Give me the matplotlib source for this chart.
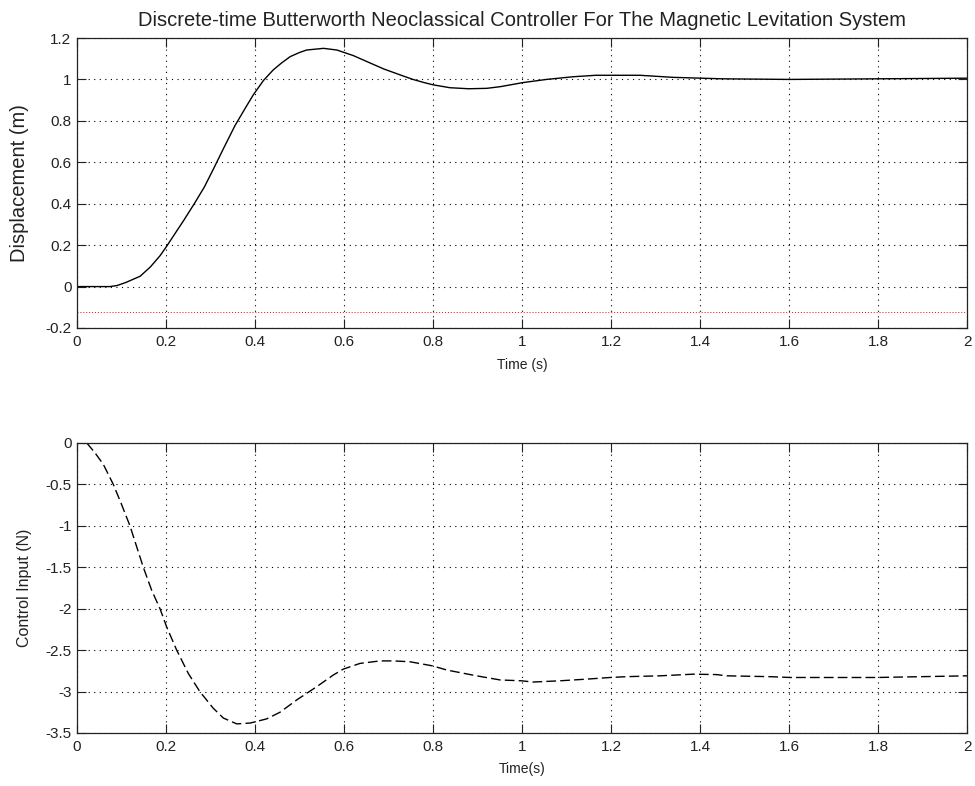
import matplotlib
matplotlib.use("Agg")
import matplotlib.pyplot as plt
from matplotlib.ticker import FuncFormatter

plt.rcParams["font.family"] = ["Liberation Sans", "DejaVu Sans"]
plt.rcParams["axes.unicode_minus"] = False

# displacement response (m) vs time (s)
t_disp = [0, 0.074, 0.09, 0.11, 0.142, 0.165, 0.187, 0.2016, 0.22, 0.24, 0.265,
          0.286, 0.306, 0.33, 0.355, 0.38, 0.396, 0.419, 0.441, 0.46, 0.479, 0.50,
          0.516, 0.554, 0.584, 0.621, 0.658, 0.69, 0.726, 0.755, 0.778, 0.80, 0.838,
          0.88, 0.921, 0.951, 1.003, 1.055, 1.115, 1.166, 1.265, 1.31, 1.34, 1.45,
          1.6, 1.8, 2.0]
disp = [0, 0, 0.005, 0.02, 0.05, 0.095, 0.15, 0.195, 0.255, 0.32, 0.405,
        0.48, 0.565, 0.67, 0.777, 0.868, 0.925, 0.995, 1.046, 1.08, 1.11, 1.13,
        1.142, 1.15, 1.142, 1.115, 1.08, 1.05, 1.022, 1.0, 0.986, 0.974, 0.96,
        0.955, 0.957, 0.965, 0.985, 1.0, 1.013, 1.02, 1.02, 1.014, 1.01, 1.003,
        1.0, 1.003, 1.006]
ref_level = -0.124

# control input (N) vs time (s)
t_ctrl = [0.022, 0.04, 0.059, 0.0816, 0.10, 0.119, 0.149, 0.168, 0.1865, 0.2015,
          0.224, 0.25, 0.276, 0.306, 0.329, 0.359, 0.389, 0.426, 0.456, 0.494,
          0.539, 0.576, 0.598, 0.636, 0.681, 0.711, 0.748, 0.799, 0.831, 0.898,
          0.951, 0.999, 1.025, 1.085, 1.145, 1.198, 1.235, 1.31, 1.385, 1.437,
          1.46, 1.557, 1.602, 1.797, 2.0]
ctrl = [0, -0.116, -0.256, -0.5, -0.74, -1.0, -1.5, -1.78, -2.0, -2.22,
        -2.5, -2.78, -3.0, -3.2, -3.32, -3.39, -3.38, -3.33, -3.25, -3.10,
        -2.94, -2.8, -2.73, -2.66, -2.63, -2.63, -2.64, -2.69, -2.74, -2.81,
        -2.86, -2.87, -2.885, -2.87, -2.85, -2.83, -2.82, -2.81, -2.79, -2.795,
        -2.81, -2.82, -2.83, -2.83, -2.81]

x_ticks = [0, 0.2, 0.4, 0.6, 0.8, 1, 1.2, 1.4, 1.6, 1.8, 2]
disp_ticks = [-0.2, 0, 0.2, 0.4, 0.6, 0.8, 1, 1.2]
ctrl_ticks = [-3.5, -3, -2.5, -2, -1.5, -1, -0.5, 0]

W, H = 975, 786
fig = plt.figure(figsize=(W / 100, H / 100), dpi=100)
fig.patch.set_facecolor("white")

ax1 = fig.add_axes([77 / W, 1 - 328 / H, 890 / W, 290 / H])
ax2 = fig.add_axes([77 / W, 1 - 733 / H, 890 / W, 290 / H])

fmt = FuncFormatter(lambda v, p: "%g" % v)


def style(ax, yticks):
    ax.set_xlim(0, 2)
    ax.set_ylim(yticks[0], yticks[-1])
    ax.set_xticks(x_ticks)
    ax.set_yticks(yticks)
    ax.xaxis.set_major_formatter(fmt)
    ax.yaxis.set_major_formatter(fmt)
    ax.tick_params(direction="in", length=6.5, width=0.8, top=True, right=True,
                   labelsize=11, colors="#222222")
    ax.tick_params(axis="x", pad=5)
    ax.tick_params(axis="y", pad=4)
    ax.grid(True, color="black", linestyle=(0, (1, 4)), linewidth=0.8)
    ax.set_axisbelow(True)
    for s in ax.spines.values():
        s.set_linewidth(0.9)
        s.set_color("#222222")


style(ax1, disp_ticks)
style(ax2, ctrl_ticks)

ax1.plot(t_disp, disp, color="black", linewidth=1.0)
ax1.axhline(ref_level, color="red", linestyle=(0, (1, 2)), linewidth=0.7)
ax1.set_title("Discrete-time Butterworth Neoclassical Controller For The Magnetic Levitation System",
              fontsize=14.5, pad=9, color="#222222")
ax1.set_ylabel("Displacement (m)", fontsize=14.5, color="#222222")
ax1.yaxis.set_label_coords(-0.054, 0.5)
ax1.set_xlabel("Time (s)", fontsize=10, color="#222222")
ax1.xaxis.set_label_coords(0.5, -0.105)

ax2.plot(t_ctrl, ctrl, color="black", linewidth=1.0, linestyle=(0, (7, 3)))
ax2.set_ylabel("Control Input (N)", fontsize=11.5, color="#222222")
ax2.yaxis.set_label_coords(-0.05, 0.5)
ax2.set_xlabel("Time(s)", fontsize=10, color="#222222")
ax2.xaxis.set_label_coords(0.5, -0.1)

fig.savefig("out.png", dpi=100, facecolor="white")
